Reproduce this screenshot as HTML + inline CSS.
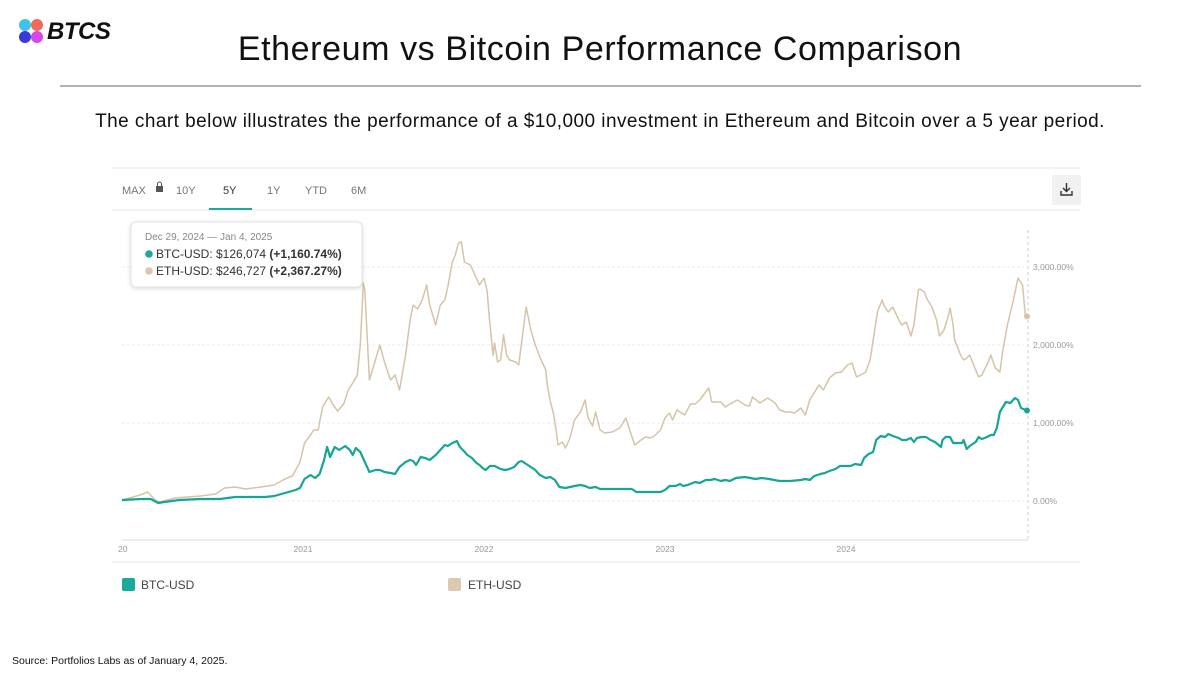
<!DOCTYPE html>
<html><head><meta charset="utf-8"><style>
body{margin:0;width:1200px;height:675px;background:#fff;font-family:"Liberation Sans",sans-serif;position:relative;overflow:hidden}
.abs{position:absolute}
</style></head><body>
<div class="abs" style="left:18px;top:18px;width:110px;height:28px">
<svg width="26" height="26" style="position:absolute;left:0;top:0"><circle cx="7" cy="7" r="6" fill="#3fc3e8"/><circle cx="19" cy="7" r="6" fill="#f06a5a"/><circle cx="7" cy="19" r="6" fill="#3a3ad8"/><circle cx="19" cy="19" r="6" fill="#d548e8"/></svg>
<span style="position:absolute;left:29px;top:0;font-size:24px;font-weight:bold;font-style:italic;color:#111;letter-spacing:-0.5px">BTCS</span></div>
<div class="abs" style="left:0;width:1200px;top:30px;text-align:center;font-size:34px;letter-spacing:0.6px;color:#111">Ethereum vs Bitcoin Performance Comparison</div>
<div class="abs" style="left:60px;width:1081px;top:85px;height:2px;background:#b3b3b3"></div>
<div class="abs" style="left:0;width:1200px;top:111px;text-align:center;font-size:19px;letter-spacing:0.45px;color:#111">The chart below illustrates the performance of a $10,000 investment in Ethereum and Bitcoin over a 5 year period.</div>
<div class="abs" style="left:12px;top:655px;font-size:10.5px;color:#111">Source: Portfolios Labs as of January 4, 2025.</div>
<svg class="abs" style="left:0;top:0" width="1200" height="675" id="chart">
<line x1="112" y1="168" x2="1080" y2="168" stroke="#e6e6e6"/>
<line x1="112" y1="210" x2="1080" y2="210" stroke="#e6e6e6"/>
<line x1="112" y1="562" x2="1080" y2="562" stroke="#e6e6e6"/>
<g font-size="11" fill="#777">
<text x="122" y="194">MAX</text>
<rect x="156" y="186" width="7" height="6" fill="#555"/><path d="M157.5 186v-2a2 2 0 0 1 4 0v2" stroke="#555" fill="none"/>
<text x="176" y="194">10Y</text>
<text x="223" y="194" fill="#333">5Y</text>
<text x="267" y="194">1Y</text>
<text x="305" y="194">YTD</text>
<text x="351" y="194">6M</text>
</g>
<rect x="209" y="208" width="43" height="2" fill="#1aa99a"/>
<rect x="1052" y="175" width="29" height="30" fill="#f1f1f1"/>
<path d="M1066.5 183v8M1063 188l3.5 3.5 3.5-3.5M1061 191v4h11v-4" stroke="#333" stroke-width="1.4" fill="none"/>
<g id="grid"></g>
<line x1="122" y1="540" x2="1028" y2="540" stroke="#ddd"/>
<line x1="1028" y1="230" x2="1028" y2="540" stroke="#ccc" stroke-dasharray="3,3"/>
<g id="series"></g>
<g>
<rect x="131" y="222" width="231" height="65" rx="5" fill="#fff" stroke="#e3e3e3" style="filter:drop-shadow(0 1px 2px rgba(0,0,0,.15))"/>
<text x="145" y="240" font-size="10" fill="#888">Dec 29, 2024 — Jan 4, 2025</text>
<circle cx="149" cy="254" r="3.8" fill="#1aa99a"/>
<text x="156" y="258" font-size="12" fill="#333">BTC-USD: $126,074 <tspan font-weight="bold">(+1,160.74%)</tspan></text>
<circle cx="149" cy="271" r="3.8" fill="#dcc6b0"/>
<text x="156" y="275" font-size="12" fill="#333">ETH-USD: $246,727 <tspan font-weight="bold">(+2,367.27%)</tspan></text>
</g>
<rect x="122" y="578" width="13" height="13" rx="2" fill="#1aa99a"/>
<text x="141" y="589" font-size="12" fill="#444">BTC-USD</text>
<rect x="448" y="578" width="13" height="13" rx="2" fill="#dcc9b0"/>
<text x="468" y="589" font-size="12" fill="#444">ETH-USD</text>
</svg>
<script>
const yTicks=[0,1000,2000,3000];
const yTickLabels=["0.00%","1,000.00%","2,000.00%","3,000.00%"];
const xTickMonths=[0,12,24,36,48];
const xTickLabels=["'20","2021","2022","2023","2024"];
const ethMonths=[0,1.2,1.7,2.2,2.5,3.5,5.2,6.2,6.8,7.5,8.2,9.2,10.1,10.8,11.3,11.8,12.1,12.5,12.7,13.0,13.3,13.7,14.0,14.3,14.7,15.0,15.3,15.6,15.8,16.0,16.1,16.4,16.8,17.1,17.4,17.8,18.1,18.4,18.8,19.1,19.3,19.6,19.9,20.2,20.4,20.6,20.8,21.1,21.4,21.6,21.9,22.1,22.3,22.5,22.7,23.1,23.4,23.7,24.0,24.2,24.4,24.6,24.7,24.9,25.1,25.3,25.5,25.7,26.1,26.3,26.6,26.8,27.1,27.4,27.7,28.1,28.2,28.4,28.6,28.8,28.9,29.2,29.4,29.7,30.0,30.4,30.7,30.9,31.2,31.4,31.7,32.0,32.5,33.0,33.4,33.7,34.0,34.4,34.7,35.0,35.3,35.7,36.0,36.3,36.5,36.8,37.3,37.7,38.0,38.3,38.9,39.1,39.7,40.0,40.3,40.8,41.3,41.6,41.8,42.3,42.8,43.3,43.6,44.0,44.3,44.6,45.0,45.3,45.6,46.2,46.5,46.9,47.3,47.7,48.1,48.4,48.7,49.1,49.3,49.6,49.9,50.1,50.4,50.5,50.8,51.1,51.5,51.7,52.0,52.3,52.5,52.8,52.9,53.2,53.4,53.7,54.0,54.2,54.5,54.8,54.9,55.1,55.2,55.6,55.8,56.0,56.2,56.6,56.8,57.0,57.4,57.6,57.9,58.2,58.4,58.7,59.1,59.4,59.7,59.9,60.0];
const ethValues=[13,77,115,13,-13,38,64,90,167,179,154,179,205,282,321,500,744,846,910,910,1205,1333,1231,1154,1244,1423,1513,1615,2000,2795,2705,1551,1808,2000,1782,1551,1615,1423,1872,2320,2513,2461,2577,2769,2513,2385,2256,2513,2577,2743,3064,3154,3308,3320,3064,3026,2897,2769,2859,2705,2256,1872,2026,1782,1808,2128,1872,1808,1782,1744,2192,2487,2192,2000,1846,1679,1487,1269,1128,885,718,756,679,808,1038,1141,1295,1064,962,1141,910,872,885,936,1064,885,718,782,820,808,833,910,1064,1128,1038,1167,1103,1244,1244,1295,1449,1269,1269,1205,1244,1295,1231,1218,1333,1256,1320,1256,1167,1141,1141,1128,1192,1103,1295,1487,1423,1577,1641,1654,1744,1769,1590,1628,1654,1808,2192,2436,2577,2513,2423,2487,2320,2256,2295,2115,2256,2705,2718,2679,2577,2487,2320,2115,2192,2385,2474,2256,2064,1872,1808,1833,1872,1679,1590,1615,1769,1872,1705,1654,1936,2256,2577,2859,2769,2359,2367];
const btcMonths=[0,1.2,1.9,2.4,2.8,3.8,5.2,6.5,7.5,8.5,9.5,10.1,10.8,11.5,11.8,12.1,12.5,12.8,13.1,13.4,13.6,13.8,14.1,14.4,14.8,15.1,15.3,15.5,15.8,16.1,16.4,16.8,17.1,17.4,17.8,18.1,18.4,18.8,19.1,19.3,19.5,19.8,20.1,20.4,20.8,21.1,21.4,21.6,21.9,22.2,22.4,22.6,22.9,23.2,23.5,23.7,23.9,24.1,24.4,24.7,25.1,25.4,25.7,26.0,26.3,26.5,26.8,27.0,27.4,27.7,28.1,28.4,28.7,29.0,29.4,29.7,30.0,30.4,30.7,31.0,31.4,31.7,32.4,33.0,33.8,34.1,34.7,35.7,36.0,36.3,36.7,37.0,37.2,37.5,38.0,38.3,38.7,39.0,39.3,39.7,40.0,40.3,40.7,41.3,42.0,42.4,42.9,43.6,44.3,45.0,45.3,45.6,45.9,46.3,46.6,46.9,47.3,47.6,48.0,48.3,48.6,49.0,49.2,49.5,49.8,50.0,50.3,50.6,50.8,51.1,51.5,51.7,52.0,52.3,52.5,52.7,53.0,53.3,53.6,53.9,54.3,54.4,54.6,54.9,55.1,55.4,55.7,55.8,56.0,56.2,56.6,56.8,57.0,57.2,57.6,57.8,58.0,58.2,58.6,58.9,59.2,59.4,59.6,59.9,60.0];
const btcValues=[13,26,26,-26,-13,13,26,26,51,51,51,64,103,141,167,282,333,295,346,526,692,564,692,654,705,654,590,679,628,500,372,397,397,372,359,346,436,500,526,513,462,564,551,526,590,654,718,705,744,769,692,654,590,551,487,462,423,397,449,449,410,397,410,436,500,513,474,449,397,333,295,308,269,179,167,179,192,205,192,167,179,154,154,154,154,115,115,115,141,192,192,218,192,205,244,231,269,269,282,256,269,256,295,308,282,295,282,256,256,269,282,269,321,346,359,385,410,449,449,449,474,462,551,603,628,782,833,820,859,833,808,782,782,808,756,808,820,820,782,756,692,782,820,820,744,744,744,782,667,705,756,820,795,808,846,846,936,1141,1269,1256,1320,1295,1192,1167,1161];

const X0=122,X1=1027,M1=60;
const xs=m=>X0+(m/M1)*(X1-X0);
const ys=v=>501-v*0.078;
const NS='http://www.w3.org/2000/svg';
const grid=document.getElementById('grid'),ser=document.getElementById('series');
yTicks.forEach((t,i)=>{
 const l=document.createElementNS(NS,'line');
 
 
 l.setAttribute('x1',122);l.setAttribute('x2',1024);l.setAttribute('y1',ys(t));l.setAttribute('y2',ys(t));
 l.setAttribute('stroke','#ececec');l.setAttribute('stroke-dasharray','3,2');grid.appendChild(l);
 const tx=document.createElementNS(NS,'text');
 
 
 tx.setAttribute('x',1033);tx.setAttribute('y',ys(t)+3);tx.setAttribute('font-size','8.5');tx.setAttribute('fill','#999');
 tx.textContent=yTickLabels[i];grid.appendChild(tx);
});
xTickMonths.forEach((m,i)=>{
 const tx=document.createElementNS(NS,'text');
 
 
 tx.setAttribute('x',i===0?118:xs(m));tx.setAttribute('y',552);tx.setAttribute('font-size','8.5');tx.setAttribute('fill','#999');
 tx.setAttribute('text-anchor',i===0?'start':'middle');
 tx.textContent=i===0?'20':xTickLabels[i];grid.appendChild(tx);
});
function draw(ms,vs,color,w,name){
 const p=document.createElementNS(NS,'polyline');
 
 
 p.setAttribute('points',ms.map((m,i)=>xs(m).toFixed(1)+','+ys(vs[i]).toFixed(1)).join(' '));
 p.setAttribute('fill','none');p.setAttribute('stroke',color);p.setAttribute('stroke-width',w);p.setAttribute('stroke-linejoin','round');
 ser.appendChild(p);
 const c=document.createElementNS(NS,'circle');
 
 
 c.setAttribute('cx',xs(ms[ms.length-1]));c.setAttribute('cy',ys(vs[vs.length-1]));c.setAttribute('r',3);c.setAttribute('fill',color);
 ser.appendChild(c);
}
draw(ethMonths,ethValues,'#d6c4a8',1.5,'eth-line');
draw(btcMonths,btcValues,'#17a595',2.2,'btc-line');
</script>
</body></html>
